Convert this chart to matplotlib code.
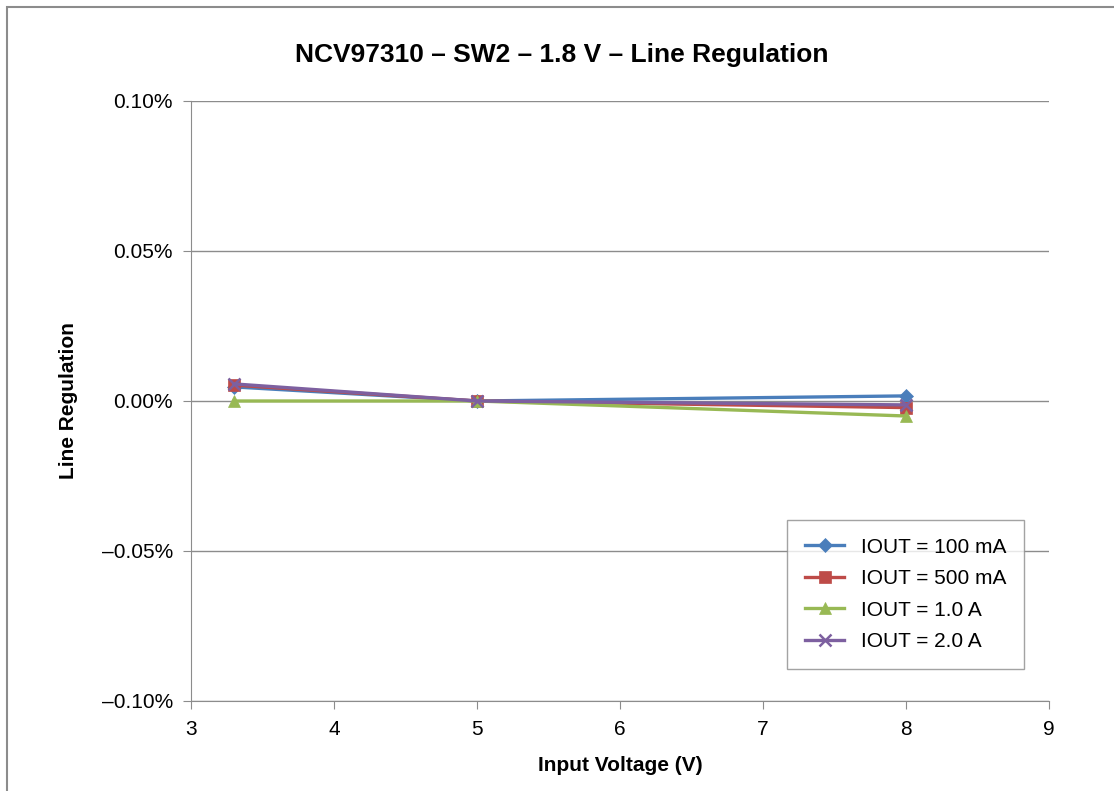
import matplotlib
matplotlib.use("Agg")
import matplotlib.pyplot as plt
from matplotlib.patches import Rectangle
from matplotlib.ticker import FuncFormatter

plt.rcParams['font.family'] = ['Liberation Sans', 'DejaVu Sans']

# Data (line regulation in %)
vin = [3.3, 5.0, 8.0]
iout_100ma = [0.0047, 0.0, 0.0017]
iout_500ma = [0.0053, 0.0, -0.0022]
iout_1a = [0.0, 0.0, -0.0050]
iout_2a = [0.0057, 0.0, -0.0013]

labels = ['IOUT = 100 mA', 'IOUT = 500 mA', 'IOUT = 1.0 A', 'IOUT = 2.0 A']
colors = ['#4A7EBB', '#BE4B48', '#98B954', '#7D60A0']
markers = ['D', 's', '^', 'x']
msizes = [7, 8, 9, 9]

fig = plt.figure(figsize=(11.14, 7.91), dpi=100)
W, H = 1114, 791
ax = fig.add_axes([191 / W, 1 - 701 / H, (1049 - 191) / W, (701 - 101) / H])

# outer chart frame
fig.patches.append(Rectangle((7 / W, -0.05), 1.2, 1 - 7 / H + 0.05, transform=fig.transFigure,
                             fill=False, edgecolor='#8c8c8c', linewidth=1.5))

series = [iout_100ma, iout_500ma, iout_1a, iout_2a]
for ys, lab, c, m, ms in zip(series, labels, colors, markers, msizes):
    ax.plot(vin, ys, color=c, marker=m, markersize=ms, linewidth=2.4, label=lab,
            markeredgewidth=1.8 if m == 'x' else 0.5, markeredgecolor=c)

ax.set_xlim(3, 9)
ax.set_ylim(-0.1, 0.1)
ax.set_xticks(range(3, 10))
ax.set_yticks([-0.1, -0.05, 0.0, 0.05, 0.1])
ax.yaxis.set_major_formatter(FuncFormatter(lambda v, p: f"{v:.2f}%".replace('-', '\u2013')))
ax.grid(axis='y', color='#8c8c8c', linewidth=1)
ax.set_axisbelow(True)
for s in ['top', 'right']:
    ax.spines[s].set_visible(False)
for s in ['left', 'bottom']:
    ax.spines[s].set_color('#8c8c8c')
ax.tick_params(axis='both', colors='#8c8c8c', labelcolor='black', labelsize=15, length=6,
               direction='out')
ax.tick_params(axis='y', pad=7)
ax.tick_params(axis='x', pad=8)

ax.set_xlabel('Input Voltage (V)', fontsize=15, fontweight='bold', labelpad=12)
ax.set_ylabel('Line Regulation', fontsize=15, fontweight='bold', labelpad=17)
fig.text(562 / W, 1 - 55 / H, 'NCV97310 \u2013 SW2 \u2013 1.8 V \u2013 Line Regulation',
         ha='center', va='center', fontsize=19, fontweight='bold')

leg = ax.legend(loc='upper left', bbox_to_anchor=(787 / W, 1 - 520 / H), bbox_transform=fig.transFigure,
                fontsize=15, frameon=True, fancybox=False, edgecolor='#8c8c8c', borderaxespad=0,
                handlelength=1.9, borderpad=0.85, labelspacing=0.6, handletextpad=0.8)
leg.get_frame().set_linewidth(1)

fig.savefig('out.png', dpi=100)
